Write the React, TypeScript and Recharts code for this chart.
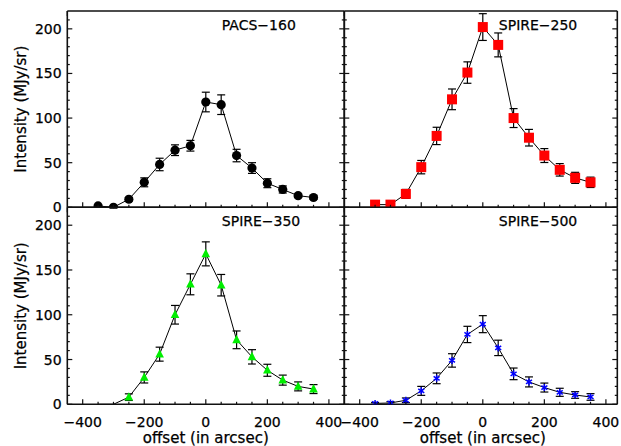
import { ComposedChart, ErrorBar, Line, Scatter, XAxis, YAxis } from "recharts";

const W = 621;
const H = 446;
const FONT = "'DejaVu Sans', sans-serif";
const AXIS = "#111";

const OFFSETS = [-350, -300, -250, -200, -150, -100, -50, 0, 50, 100, 150, 200, 250, 300, 350];

const PACS160 = [1.5, 0, 9, 28, 48, 64, 69, 118, 115, 58, 44, 27, 20, 13, 11];
const PACS160_ERR = [1, 1, 2, 5, 7, 6, 6, 11, 11, 7, 6, 5, 4, 2, 2];

const SPIRE250 = [3, 3, 15, 45, 80, 121, 151, 202, 182, 100, 78, 58, 42, 33, 28];
const SPIRE250_ERR = [2, 2, 5, 7.5, 9.7, 11.6, 12, 15, 13.4, 10.6, 9.3, 7.8, 7, 6.2, 5.8];

const SPIRE350 = [0, 0, 8, 30, 56, 100, 134, 168, 133, 72, 53, 38, 27, 20, 17];
const SPIRE350_ERR = [0, 0, 3.7, 6.2, 7.8, 10.4, 11.7, 13.4, 12, 9.9, 8, 6.7, 5.6, 5, 5];

const SPIRE500 = [1, 1.5, 4.5, 15, 29, 49, 78, 89.5, 63, 34, 25, 18.7, 13.4, 10.4, 8.2];
const SPIRE500_ERR = [1, 1.5, 2.6, 5, 6, 7.5, 9.1, 9.5, 8.6, 6.5, 5.6, 5, 4.5, 3.7, 3.7];

const X_TICKS = [-400, -350, -300, -250, -200, -150, -100, -50, 0, 50, 100, 150, 200, 250, 300, 350, 400];
const X_LABELS = [-400, -200, 0, 200, 400];
const Y_TICKS = [0, 10, 20, 30, 40, 50, 60, 70, 80, 90, 100, 110, 120, 130, 140, 150, 160, 170, 180, 190, 200, 210];
const Y_LABELS = [0, 50, 100, 150, 200];
const Y_DOMAIN: [number, number] = [0, 220];

type Rect = { left: number; top: number; right: number; bottom: number };

const fmt = (v: number) => (v < 0 ? `\u2212${-v}` : `${v}`);

// slight outline so the text reads as heavy as the original
const textStyle = { fontFamily: FONT, fill: "#000", stroke: "#000", strokeWidth: 0.25 };

function XTick(props: any) {
  const { x, y, payload, side, labels } = props;
  const major = X_LABELS.includes(payload.value);
  const len = major ? 5 : 2.5;
  const dir = side === "bottom" ? -1 : 1;
  return (
    <g>
      <line x1={x} x2={x} y1={y} y2={y + dir * len} stroke={AXIS} strokeWidth={1.2} />
      {labels && major && (
        <text x={x} y={y + 22.7} textAnchor="middle" fontSize={14} {...textStyle}>
          {fmt(payload.value)}
        </text>
      )}
    </g>
  );
}

function YTick(props: any) {
  const { x, y, payload, side, labels } = props;
  const major = Y_LABELS.includes(payload.value);
  const len = major ? 5 : 2.5;
  const dir = side === "left" ? 1 : -1;
  return (
    <g>
      <line x1={x} x2={x + dir * len} y1={y} y2={y} stroke={AXIS} strokeWidth={1.2} />
      {labels && major && (
        <text x={x - 5.6} y={y + 5} textAnchor="end" fontSize={14} {...textStyle}>
          {fmt(payload.value)}
        </text>
      )}
    </g>
  );
}

const circle = (p: any) => <circle cx={p.cx} cy={p.cy} r={4.6} fill="#000" />;
const square = (p: any) => <rect x={p.cx - 5} y={p.cy - 5} width={10} height={10} fill="#ff0000" />;
const triangle = (p: any) =>
  p.payload.y <= 0 ? (
    <g />
  ) : (
    <polygon
      points={`${p.cx},${p.cy - 5} ${p.cx - 4.3},${p.cy + 3.3} ${p.cx + 4.3},${p.cy + 3.3}`}
      fill="#00ee00"
    />
  );
const asterisk = (p: any) => (
  <g stroke="#0000ff" strokeWidth={1.5}>
    <line x1={p.cx} x2={p.cx} y1={p.cy - 3.5} y2={p.cy + 3.5} />
    <line x1={p.cx - 3} x2={p.cx + 3} y1={p.cy - 2} y2={p.cy + 2} />
    <line x1={p.cx - 3} x2={p.cx + 3} y1={p.cy + 2} y2={p.cy - 2} />
  </g>
);

interface PanelProps {
  rect: Rect;
  xDomain: [number, number];
  values: number[];
  errors: number[];
  title: string;
  marker: (p: any) => any;
  showXLabels: boolean;
  showYLabels: boolean;
}

function Panel({ rect, xDomain, values, errors, title, marker, showXLabels, showYLabels }: PanelProps) {
  const data = OFFSETS.map((x, i) => ({ x, y: values[i], err: errors[i] }));
  const axisLine = { stroke: AXIS, strokeWidth: 1.6 };
  // axes take 1px each, so margins are the plot rect minus that
  const margin = {
    top: rect.top - 1,
    left: rect.left - 1,
    right: W - rect.right - 1,
    bottom: H - rect.bottom - 1,
  };
  const midY = (rect.top + rect.bottom) / 2;
  return (
    <div style={{ position: "absolute", left: 0, top: 0 }}>
      <ComposedChart width={W} height={H} data={data} margin={margin}>
        <XAxis
          xAxisId="b"
          dataKey="x"
          type="number"
          domain={xDomain}
          allowDataOverflow
          ticks={X_TICKS}
          interval={0}
          height={1}
          tickSize={0}
          tickMargin={0}
          tickLine={false}
          axisLine={axisLine}
          tick={(p: any) => <XTick {...p} side="bottom" labels={showXLabels} />}
        />
        <XAxis
          xAxisId="t"
          orientation="top"
          type="number"
          domain={xDomain}
          allowDataOverflow
          ticks={X_TICKS}
          interval={0}
          height={1}
          tickSize={0}
          tickMargin={0}
          tickLine={false}
          axisLine={axisLine}
          tick={(p: any) => <XTick {...p} side="top" labels={false} />}
        />
        <YAxis
          yAxisId="l"
          type="number"
          domain={Y_DOMAIN}
          allowDataOverflow
          ticks={Y_TICKS}
          interval={0}
          width={1}
          tickSize={0}
          tickMargin={0}
          tickLine={false}
          axisLine={axisLine}
          tick={(p: any) => <YTick {...p} side="left" labels={showYLabels} />}
        />
        <YAxis
          yAxisId="r"
          orientation="right"
          type="number"
          domain={Y_DOMAIN}
          allowDataOverflow
          ticks={Y_TICKS}
          interval={0}
          width={1}
          tickSize={0}
          tickMargin={0}
          tickLine={false}
          axisLine={axisLine}
          tick={(p: any) => <YTick {...p} side="right" labels={false} />}
        />
        <Line
          xAxisId="b"
          yAxisId="l"
          dataKey="y"
          type="linear"
          stroke="#000"
          strokeWidth={1}
          dot={false}
          isAnimationActive={false}
        />
        <Scatter xAxisId="b" yAxisId="l" dataKey="y" shape={marker} isAnimationActive={false} />
        <Scatter xAxisId="b" yAxisId="l" dataKey="y" shape={() => <g />} isAnimationActive={false}>
          <ErrorBar dataKey="err" direction="y" width={4} stroke="#000" strokeWidth={1.2} />
        </Scatter>
        <text x={rect.left + 154.5} y={rect.top + 18.8} fontSize={14} {...textStyle}>
          {title}
        </text>
        {showYLabels && (
          <text
            x={rect.left - 41.3}
            y={midY}
            transform={`rotate(-90 ${rect.left - 41.3} ${midY})`}
            textAnchor="middle"
            fontSize={15}
            {...textStyle}
          >
            Intensity (MJy/sr)
          </text>
        )}
        {showXLabels && (
          <text
            x={rect.left + ((0 - xDomain[0]) / (xDomain[1] - xDomain[0])) * (rect.right - rect.left)}
            y={rect.bottom + 38.7}
            textAnchor="middle"
            fontSize={15}
            {...textStyle}
          >
            offset (in arcsec)
          </text>
        )}
      </ComposedChart>
    </div>
  );
}

const LEFT_DOMAIN: [number, number] = [-450, 450];
const RIGHT_DOMAIN: [number, number] = [-450, 437];

export default function App() {
  return (
    <div style={{ position: "absolute", left: 0, top: 0, width: W, height: H, background: "#fff" }}>
      <Panel
        rect={{ left: 67.3, top: 11, right: 344.3, bottom: 207.3 }}
        xDomain={LEFT_DOMAIN}
        values={PACS160}
        errors={PACS160_ERR}
        title={"PACS\u2212160"}
        marker={circle}
        showXLabels={false}
        showYLabels={true}
      />
      <Panel
        rect={{ left: 344.3, top: 11, right: 617.3, bottom: 207.3 }}
        xDomain={RIGHT_DOMAIN}
        values={SPIRE250}
        errors={SPIRE250_ERR}
        title={"SPIRE\u2212250"}
        marker={square}
        showXLabels={false}
        showYLabels={false}
      />
      <Panel
        rect={{ left: 67.3, top: 207.3, right: 344.3, bottom: 404.3 }}
        xDomain={LEFT_DOMAIN}
        values={SPIRE350}
        errors={SPIRE350_ERR}
        title={"SPIRE\u2212350"}
        marker={triangle}
        showXLabels={true}
        showYLabels={true}
      />
      <Panel
        rect={{ left: 344.3, top: 207.3, right: 617.3, bottom: 404.3 }}
        xDomain={RIGHT_DOMAIN}
        values={SPIRE500}
        errors={SPIRE500_ERR}
        title={"SPIRE\u2212500"}
        marker={asterisk}
        showXLabels={true}
        showYLabels={false}
      />
    </div>
  );
}
